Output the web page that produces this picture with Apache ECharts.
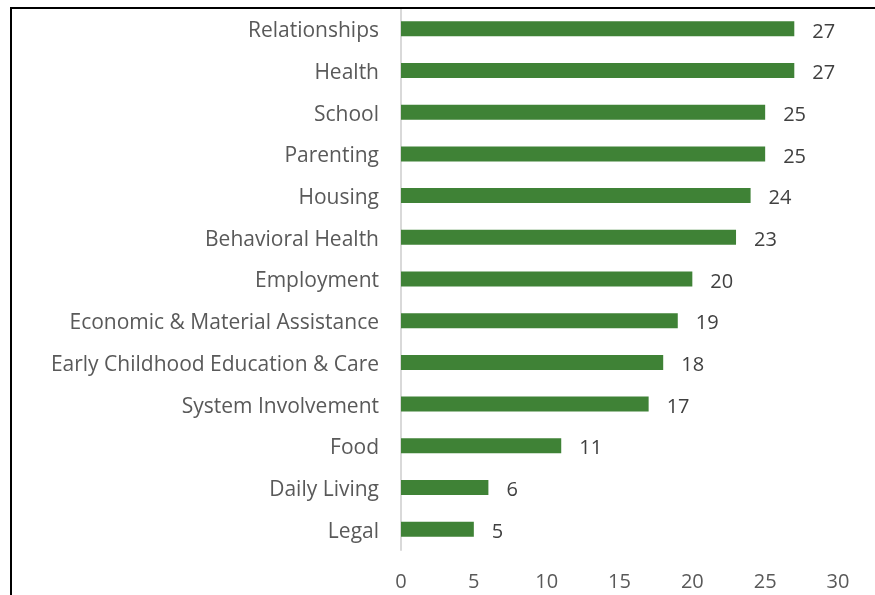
<!DOCTYPE html>
<html><head><meta charset="utf-8">
<script src="https://cdn.jsdelivr.net/npm/echarts@6/dist/echarts.min.js"></script>
<style>html,body{margin:0;padding:0;background:#fff}#c{width:875px;height:595px}</style>
</head><body><div id="c"></div>
<script>
const categories = ["Relationships","Health","School","Parenting","Housing","Behavioral Health","Employment","Economic & Material Assistance","Early Childhood Education & Care","System Involvement","Food","Daily Living","Legal"];
const values = [27,27,25,25,24,23,20,19,18,17,11,6,5];
const xTicks = [0,5,10,15,20,25,30];

const chart = echarts.init(document.getElementById('c'));
const font = '"Open Sans", sans-serif';
chart.setOption({
  animation:false,
  grid:{left:401, right:37, top:8, bottom:45},
  xAxis:{type:'value', min:xTicks[0], max:xTicks[xTicks.length-1], interval:5,
    splitLine:{show:false}, axisLine:{show:false}, axisTick:{show:false},
    axisLabel:{color:'#595959', fontSize:20, fontFamily:font, margin:22}},
  yAxis:{type:'category', inverse:true, data:categories,
    axisLine:{show:true, lineStyle:{color:'#d9d9d9', width:2}}, axisTick:{show:false},
    axisLabel:{margin:22, formatter:'{a|{value}}',
      rich:{a:{color:'#595959', fontSize:21, fontFamily:font, padding:[5,0,0,0]}}}},
  series:[{type:'bar', data:values, barWidth:15, itemStyle:{color:'#3f8236'},
    label:{show:true, position:'right', distance:18, offset:[0,3], color:'#404040', fontSize:20, fontFamily:font}}],
  graphic:[
    {type:'line', shape:{x1:10, y1:8, x2:875, y2:8}, style:{stroke:'#000', lineWidth:2}, z:100},
    {type:'line', shape:{x1:11, y1:7, x2:11, y2:595}, style:{stroke:'#000', lineWidth:2}, z:100}
  ]
});
</script></body></html>
